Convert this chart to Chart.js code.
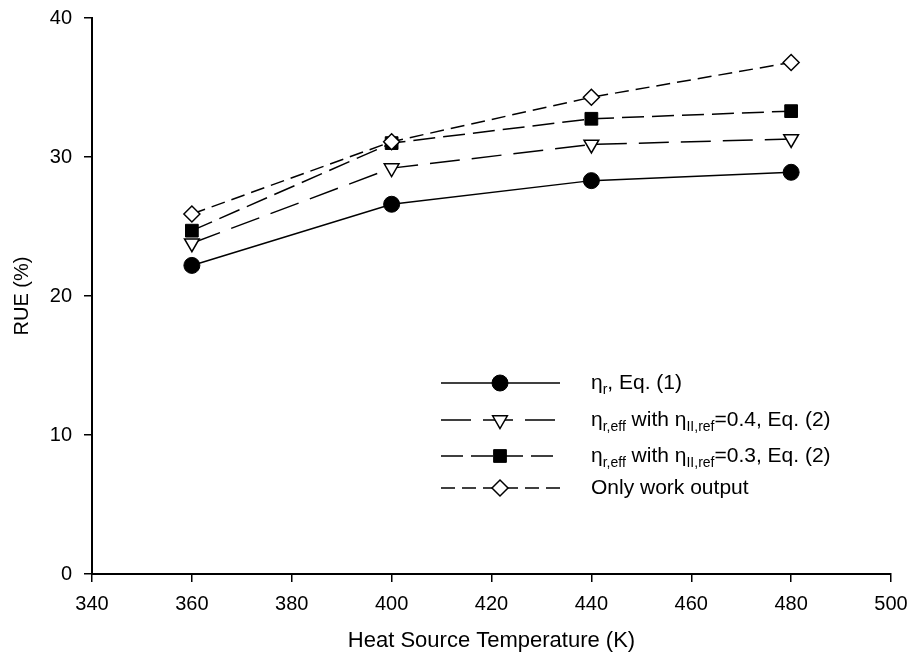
<!DOCTYPE html>
<html>
<head>
<meta charset="utf-8">
<script src="https://cdn.jsdelivr.net/npm/chart.js@4/dist/chart.umd.min.js"></script>
<style>
  html, body { margin: 0; padding: 0; background: #fff; }
  #wrap { width: 910px; height: 661px; }
</style>
</head>
<body>
<div id="wrap"><canvas id="rueChart"></canvas></div>
<script>
// Heat source temperature (K)
const temps = [360, 400, 440, 480];
// RUE (%) per series
const etaR = [22.2, 26.6, 28.3, 28.9];
const etaEff04 = [23.8, 29.2, 30.9, 31.3];
const etaEff03 = [24.7, 31.0, 32.75, 33.3];
const workOnly = [25.9, 31.1, 34.3, 36.8];

const xRange = [340, 500];
const yRange = [0, 40];

// legend text pieces: [text, isSubscript]
const legendText = [
    [['η', 0], ['r', 1], [', Eq. (1)', 0]],
    [['η', 0], ['r,eff', 1], [' with η', 0], ['II,ref', 1], ['=0.4, Eq. (2)', 0]],
    [['η', 0], ['r,eff', 1], [' with η', 0], ['II,ref', 1], ['=0.3, Eq. (2)', 0]],
    [['Only work output', 0]]
];

const FONT = '"Liberation Sans", Arial, Helvetica, sans-serif';

function pts(ys) {
    return temps.map((t, i) => ({ x: t, y: ys[i] }));
}

const legendPlugin = {
    id: 'sigmaLegend',
    afterDraw(chart) {
        const ctx = chart.ctx;
        const rows = [383, 420, 456, 488];
        ctx.save();
        chart.data.datasets.forEach((ds, i) => {
            const y = rows[i];
            ctx.beginPath();
            ctx.setLineDash(ds.borderDash || []);
            ctx.lineWidth = ds.borderWidth;
            ctx.strokeStyle = '#000';
            ctx.moveTo(441, y);
            ctx.lineTo(560, y);
            ctx.stroke();
            ctx.setLineDash([]);

            ctx.fillStyle = ds.pointBackgroundColor;
            ctx.strokeStyle = '#000';
            ctx.lineWidth = ds.pointBorderWidth;
            Chart.helpers.drawPoint(ctx, {
                pointStyle: ds.pointStyle,
                rotation: ds.pointRotation || 0,
                radius: ds.pointRadius,
                borderWidth: ds.pointBorderWidth
            }, 500, y);

            let x = 591;
            ctx.fillStyle = '#000';
            ctx.textBaseline = 'middle';
            ctx.textAlign = 'left';
            legendText[i].forEach(([txt, sub]) => {
                ctx.font = (sub ? '14px ' : '21px ') + FONT;
                ctx.fillText(txt, x, sub ? y + 7 : y);
                x += ctx.measureText(txt).width;
            });
        });
        ctx.restore();
    }
};

new Chart(document.getElementById('rueChart'), {
    type: 'line',
    data: {
        datasets: [
            {
                label: 'eta_r, Eq. (1)',
                data: pts(etaR),
                borderColor: '#000',
                borderWidth: 1.5,
                pointStyle: 'circle',
                pointRadius: 8,
                pointBackgroundColor: '#000',
                pointBorderColor: '#000',
                pointBorderWidth: 1,
                order: 3
            },
            {
                label: 'eta_r,eff with eta_II,ref=0.4, Eq. (2)',
                data: pts(etaEff04),
                borderColor: '#000',
                borderWidth: 1.5,
                borderDash: [30, 12],
                pointStyle: 'triangle',
                pointRotation: 180,
                pointRadius: 8.5,
                pointBackgroundColor: '#fff',
                pointBorderColor: '#000',
                pointBorderWidth: 1.5,
                order: 2
            },
            {
                label: 'eta_r,eff with eta_II,ref=0.3, Eq. (2)',
                data: pts(etaEff03),
                borderColor: '#000',
                borderWidth: 1.5,
                borderDash: [22, 8],
                pointStyle: 'rect',
                pointRadius: 9,
                pointBackgroundColor: '#000',
                pointBorderColor: '#000',
                pointBorderWidth: 1,
                order: 1
            },
            {
                label: 'Only work output',
                data: pts(workOnly),
                borderColor: '#000',
                borderWidth: 1.5,
                borderDash: [14, 7],
                pointStyle: 'rectRot',
                pointRadius: 8,
                pointBackgroundColor: '#fff',
                pointBorderColor: '#000',
                pointBorderWidth: 1.5,
                order: 0
            }
        ]
    },
    options: {
        responsive: true,
        maintainAspectRatio: false,
        animation: false,
        layout: { padding: { top: 18, right: 19, left: 0, bottom: 0 } },
        plugins: {
            legend: { display: false },
            tooltip: { enabled: false }
        },
        scales: {
            x: {
                type: 'linear',
                min: xRange[0],
                max: xRange[1],
                afterFit: s => {
                    s.height = 87;
                    s.paddingLeft = 0;
                    s.paddingRight = 0;
                },
                ticks: {
                    stepSize: 20,
                    color: '#000',
                    padding: 10,
                    maxRotation: 0,
                    font: { family: FONT, size: 20 }
                },
                grid: { drawOnChartArea: false, drawTicks: true, tickLength: 8, color: '#000', lineWidth: 1.5 },
                border: { display: true, color: '#000', width: 2 },
                title: {
                    display: true,
                    text: 'Heat Source Temperature (K)',
                    color: '#000',
                    font: { family: FONT, size: 22 },
                    padding: { top: 0, bottom: 7 }
                }
            },
            y: {
                min: yRange[0],
                max: yRange[1],
                afterFit: s => {
                    s.width = 92;
                    s.paddingTop = 0;
                    s.paddingBottom = 0;
                },
                ticks: {
                    stepSize: 10,
                    color: '#000',
                    padding: 12,
                    font: { family: FONT, size: 20 }
                },
                grid: { drawOnChartArea: false, drawTicks: true, tickLength: 8, color: '#000', lineWidth: 1.5 },
                border: { display: true, color: '#000', width: 2 },
                title: {
                    display: true,
                    text: 'RUE (%)',
                    color: '#000',
                    font: { family: FONT, size: 20 },
                    padding: { top: 10, bottom: 0 }
                }
            }
        }
    },
    plugins: [legendPlugin]
});
</script>
</body>
</html>
